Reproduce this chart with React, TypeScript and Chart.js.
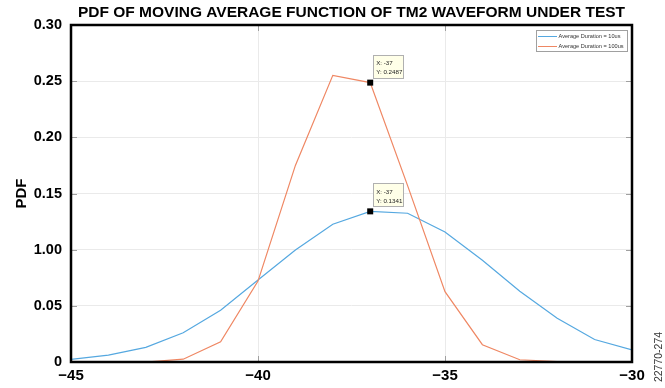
import React, { useEffect, useRef } from 'react';
import { Chart, registerables } from 'chart.js';

Chart.register(...registerables);

const xValues = [-45, -44, -43, -42, -41, -40, -39, -38, -37, -36, -35, -34, -33, -32, -31, -30];
const pdf10us = [0.0024, 0.0062, 0.013, 0.026, 0.046, 0.073, 0.0997, 0.1226, 0.1341, 0.1324, 0.1157, 0.0905, 0.063, 0.039, 0.02, 0.0107];
const pdf100us = [0, 0, 0, 0.0025, 0.018, 0.072, 0.175, 0.2552, 0.2487, 0.157, 0.0626, 0.0154, 0.002, 0.0003, 0, 0];
const seriesLabels = ['Average Duration = 10us', 'Average Duration = 100us'];
const seriesColors = ['#55A8E0', '#EF8763'];
const yTickLabels = ['0', '0.05', '1.00', '0.15', '0.20', '0.25', '0.30'];
const xTickLabels = ['\u221245', '\u221240', '\u221235', '\u221230'];
const datatipX = -37;
const datatipSeries = [1, 0];
const titleText = 'PDF OF MOVING AVERAGE FUNCTION OF TM2 WAVEFORM UNDER TEST';
const yAxisTitle = 'PDF';
const figureId = '22770-274';

const FONT = "'Liberation Sans', Arial, sans-serif";

const overlayPlugin = {
  id: 'overlay',
  afterDatasetsDraw(chart: any) {
    const { ctx, chartArea: a, scales } = chart;
    const x = scales.x;
    const y = scales.y;
    ctx.save();
    // inward tick marks
    ctx.strokeStyle = '#a0a0a0';
    ctx.lineWidth = 1;
    y.ticks.forEach((t: any) => {
      const py = Math.round(y.getPixelForValue(t.value)) + 0.5;
      ctx.beginPath();
      ctx.moveTo(a.left, py); ctx.lineTo(a.left + 6, py);
      ctx.moveTo(a.right - 6, py); ctx.lineTo(a.right, py);
      ctx.stroke();
    });
    x.ticks.forEach((t: any) => {
      const px = Math.round(x.getPixelForValue(t.value)) + 0.5;
      ctx.beginPath();
      ctx.moveTo(px, a.bottom); ctx.lineTo(px, a.bottom - 6);
      ctx.moveTo(px, a.top); ctx.lineTo(px, a.top + 6);
      ctx.stroke();
    });
    // box border
    ctx.strokeStyle = '#000';
    ctx.lineWidth = 2.5;
    ctx.strokeRect(a.left, a.top, a.right - a.left, a.bottom - a.top);

    // data tips
    const series = [pdf10us, pdf100us];
    const idx = xValues.indexOf(datatipX);
    datatipSeries.forEach((s) => {
      const v = series[s][idx];
      const px = x.getPixelForValue(datatipX);
      const py = y.getPixelForValue(v);
      ctx.fillStyle = '#000';
      ctx.fillRect(px - 3, py - 3, 6, 6);
      const bx = Math.round(px + 3) + 0.5;
      const by = Math.round(py - 28) + 0.5;
      ctx.fillStyle = '#FFFFE8';
      ctx.fillRect(bx, by, 30, 23);
      ctx.strokeStyle = '#B0B0B0';
      ctx.lineWidth = 1;
      ctx.strokeRect(bx, by, 30, 23);
      ctx.fillStyle = '#222';
      ctx.font = `6.2px ${FONT}`;
      ctx.textAlign = 'left';
      ctx.textBaseline = 'middle';
      ctx.fillText(`X: ${datatipX}`, px + 6, py - 19.5);
      ctx.fillText(`Y: ${v.toFixed(4)}`, px + 6, py - 10);
    });

    // legend
    const lx = 536.5, ly = 30.5, lw = 91, lh = 21;
    ctx.fillStyle = '#fff';
    ctx.fillRect(lx, ly, lw, lh);
    ctx.strokeStyle = '#A0A0A0';
    ctx.lineWidth = 1;
    ctx.strokeRect(lx, ly, lw, lh);
    seriesLabels.forEach((lab, i) => {
      const yy = 36 + i * 10;
      ctx.strokeStyle = seriesColors[i];
      ctx.lineWidth = 1;
      ctx.beginPath();
      ctx.moveTo(538, yy + 0.5);
      ctx.lineTo(557, yy + 0.5);
      ctx.stroke();
      ctx.fillStyle = '#333';
      ctx.font = `5.6px ${FONT}`;
      ctx.textAlign = 'left';
      ctx.textBaseline = 'middle';
      ctx.fillText(lab, 558.5, yy + 0.5);
    });
    ctx.restore();
  },
  afterDraw(chart: any) {
    const { ctx } = chart;
    ctx.save();
    ctx.translate(659, 357);
    ctx.rotate(-Math.PI / 2);
    ctx.fillStyle = '#333';
    ctx.font = `10.5px ${FONT}`;
    ctx.textAlign = 'center';
    ctx.textBaseline = 'middle';
    ctx.fillText(figureId, 0, 0);
    ctx.restore();
  },
};

export default function App() {
  const ref = useRef<HTMLCanvasElement | null>(null);
  useEffect(() => {
    if (!ref.current) return;
    const chart = new Chart(ref.current, {
      type: 'line',
      data: {
        datasets: [
          {
            label: seriesLabels[0],
            data: xValues.map((xv, i) => ({ x: xv, y: pdf10us[i] })),
            borderColor: seriesColors[0],
            borderWidth: 1.2,
            pointRadius: 0,
            tension: 0,
            order: 2,
          },
          {
            label: seriesLabels[1],
            data: xValues.map((xv, i) => ({ x: xv, y: pdf100us[i] })),
            borderColor: seriesColors[1],
            borderWidth: 1.2,
            pointRadius: 0,
            tension: 0,
            order: 1,
          },
        ],
      },
      options: {
        animation: false,
        responsive: false,
        devicePixelRatio: 1,
        layout: { padding: { left: 0, right: 33, top: 0, bottom: 0 } },
        plugins: {
          legend: { display: false },
          tooltip: { enabled: false },
          title: {
            display: true,
            text: titleText,
            fullSize: false,
            color: '#000',
            font: { family: FONT, size: 15.5, weight: 'bold' },
            padding: { top: 3.6, bottom: 2.8 },
          },
        },
        scales: {
          x: {
            type: 'linear',
            min: -45,
            max: -30,
            afterFit: (s: any) => { s.height = 26; },
            ticks: {
              stepSize: 5,
              padding: 5,
              color: '#000',
              font: { family: FONT, size: 15, weight: 'bold' },
              callback: (_v: any, i: number) => xTickLabels[i],
              maxRotation: 0,
            },
            grid: { color: '#EAEAEA', drawTicks: false, lineWidth: 1 },
            border: { display: false },
          },
          y: {
            type: 'linear',
            min: 0,
            max: 0.3,
            afterFit: (s: any) => { s.width = 71; },
            ticks: {
              stepSize: 0.05,
              padding: 9,
              color: '#000',
              font: { family: FONT, size: 14.5, weight: 'bold' },
              callback: (_v: any, i: number) => yTickLabels[i],
            },
            title: {
              display: true,
              text: yAxisTitle,
              color: '#000',
              font: { family: FONT, size: 15, weight: 'bold' },
              padding: { top: 12.5, bottom: 0 },
            },
            grid: { color: '#EAEAEA', drawTicks: false, lineWidth: 1 },
            border: { display: false },
          },
        },
      },
      plugins: [overlayPlugin],
    });
    return () => chart.destroy();
  }, []);
  return (
    <div style={{ position: 'fixed', left: 0, top: 0, width: 665, height: 388, background: '#fff' }}>
      <canvas ref={ref} width={665} height={388} style={{ display: 'block', width: 665, height: 388 }} />
    </div>
  );
}
